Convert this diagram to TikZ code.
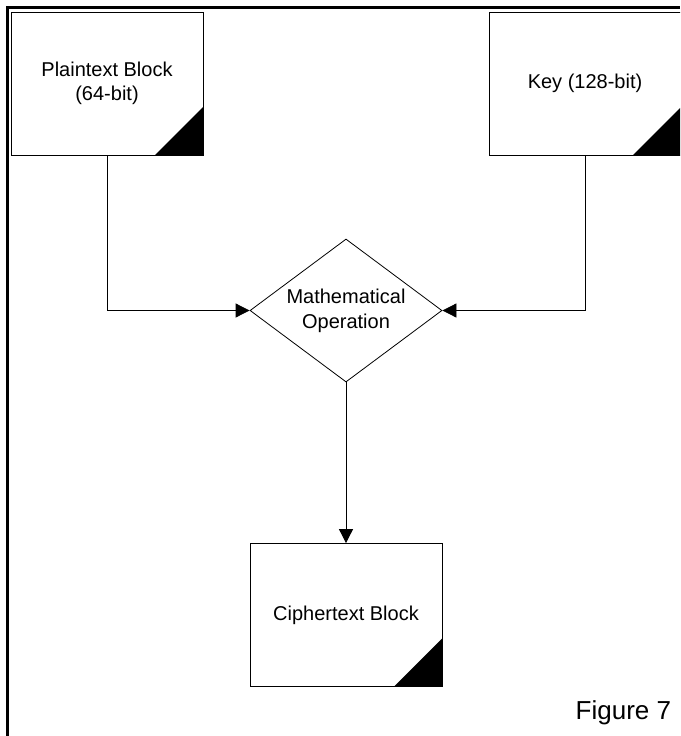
\documentclass[tikz,border=0pt]{standalone}
\usepackage{fontspec}
\setmainfont{Liberation Sans}
\usetikzlibrary{arrows.meta,shapes.geometric}

\begin{document}
\begin{tikzpicture}[x=1pt,y=-1pt,->,>={Triangle[length=14pt,width=14pt]},line width=0.8pt,node distance=304.5pt,
	main node/.style={rectangle,draw,-,minimum width=192pt,minimum height=143pt,inner sep=0pt,align=center,font=\fontsize{20}{24}\selectfont,
		path picture={\fill (path picture bounding box.south east) -- ++(-48pt,0pt) -- ++(48pt,48pt) -- cycle;}},
	op node/.style={diamond,draw,-,shape aspect=1.5,minimum width=192pt,minimum height=143pt,inner sep=0pt,align=center,font=\fontsize{20}{25}\selectfont}]
			
			\clip (0,0) rectangle (680,736);
			\draw[-,line width=2.5pt] (7.5,736) -- (7.5,7.5) -- (680,7.5);
			
			\node[main node] (1) at (107,83.5) {Plaintext Block\\(64-bit)};
			\node[main node] (2) at (585,83.5) {Key (128-bit)};
			\node[op node] (3) at (346,310.5) {Mathematical\\Operation};
			\node[main node] (4) [below of = 3] {Ciphertext Block};
			\node[anchor=base west,font=\fontsize{26}{30}\selectfont] (5) at (572,719) {Figure 7};
			
			\path
			(1) edge [to path={|- (\tikztotarget)}] (3)
			(2) edge [to path={|- (\tikztotarget)}] (3)
			(3) edge (4)
			;
			\end{tikzpicture}
\end{document}
